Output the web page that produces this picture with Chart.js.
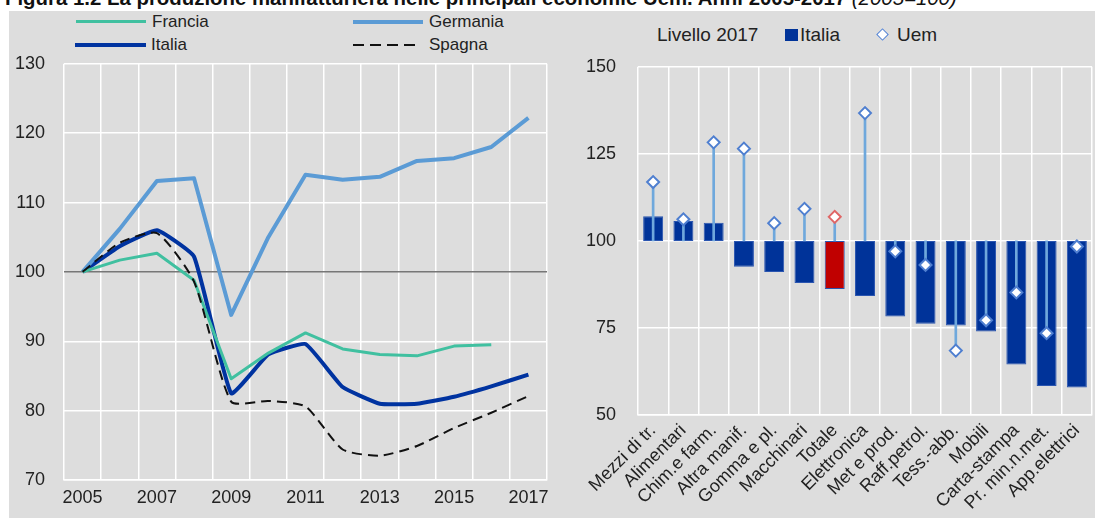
<!DOCTYPE html>
<html lang="it">
<head>
<meta charset="utf-8">
<title>Produzione manifatturiera Uem</title>
<script src="https://cdn.jsdelivr.net/npm/chart.js@4.4.1/dist/chart.umd.min.js"></script>
<style>
  html, body { margin: 0; padding: 0; background: #fff; }
  body { width: 1095px; height: 520px; position: relative; overflow: hidden;
         font-family: "Liberation Sans", Arial, sans-serif; color: #222; }
  #titolo { position: absolute; left: 5px; top: -14px; font-size: 20.4px; line-height: 24px;
            font-weight: bold; white-space: nowrap; color: #111; }
  #titolo i { font-weight: normal; }
  #sfondo { position: absolute; left: 9px; top: 11px; width: 1086px; height: 507px; background: #dddddd; }
  canvas { position: absolute; }
  .leg { position: absolute; font-size: 17px; line-height: 20px; white-space: nowrap; color: #222; }
  .seg { position: absolute; height: 0; }
</style>
</head>
<body>
<div id="titolo">Figura 1.2 La produzione manifatturiera nelle principali economie Uem. Anni 2005-2017 <i>(2005=100)</i></div>
<div id="sfondo"></div>

<!-- legenda sinistra -->
<div class="seg" style="left:76px;top:20px;width:70px;border-top:3px solid #40c0a0"></div>
<div class="leg" style="left:152px;top:12px">Francia</div>
<div class="seg" style="left:353px;top:20px;width:70px;border-top:4px solid #5b9bd5"></div>
<div class="leg" style="left:429px;top:12px">Germania</div>
<div class="seg" style="left:75px;top:43px;width:71px;border-top:4px solid #0033a0"></div>
<div class="leg" style="left:151px;top:35px">Italia</div>
<div class="seg" style="left:353px;top:44px;width:62px;height:2px;background:repeating-linear-gradient(to right,#111 0 11px,transparent 11px 17px)"></div>
<div class="leg" style="left:429px;top:35px">Spagna</div>

<!-- legenda destra -->
<div class="leg" style="left:657px;top:24px;font-size:19px;line-height:22px">Livello 2017</div>
<div class="seg" style="left:785px;top:29px;width:13px;height:12px;background:#003399"></div>
<div class="leg" style="left:800px;top:24px;font-size:19px;line-height:22px">Italia</div>
<div class="seg" style="left:878px;top:30px;width:7px;height:7px;background:#fff;border:1.5px solid #4f7fd0;transform:rotate(45deg)"></div>
<div class="leg" style="left:897px;top:24px;font-size:19px;line-height:22px">Uem</div>

<canvas id="graficoLinee" style="left:0;top:34px"></canvas>
<canvas id="graficoBarre" style="left:560px;top:34px"></canvas>

<script>
// ---- dati pannello sinistro (2005=100) ----
const anni = ['2005', '2006', '2007', '2008', '2009', '2010', '2011', '2012', '2013', '2014', '2015', '2016', '2017'];
const francia  = [100, 101.7, 102.7, 98.8, 84.6, 88.3, 91.2, 88.9, 88.1, 87.9, 89.3, 89.5, null];
const germania = [100, 106.2, 113.1, 113.5, 93.8, 105.0, 114.0, 113.3, 113.7, 116.0, 116.4, 118.0, 122.2];
const italia   = [100, 103.7, 106.0, 102.2, 82.5, 88.1, 89.6, 83.4, 81.0, 81.0, 82.0, 83.5, 85.2];
const spagna   = [100, 104.2, 105.6, 98.6, 81.3, 81.4, 80.6, 74.4, 73.5, 74.9, 77.5, 79.7, 82.1];

// ---- dati pannello destro (livello 2017) ----
const settori = ['Mezzi di tr.', 'Alimentari', 'Chim.e farm.', 'Altra manif.', 'Gomma e pl.', 'Macchinari', 'Totale',
  'Elettronica', 'Met e prod.', 'Raff.petrol.', 'Tess.-abb.', 'Mobili', 'Carta-stampa', 'Pr. min.n.met.', 'App.elettrici'];
const livItalia = [107.1, 105.7, 105.2, 92.6, 91.1, 87.9, 86.2, 84.2, 78.3, 76.2, 75.7, 74.0, 64.5, 58.3, 57.9];
const livUem    = [116.9, 106.2, 128.3, 126.5, 105.1, 109.2, 106.9, 136.7, 97.0, 93.1, 68.5, 77.2, 85.2, 73.5, 98.4];
const base = 100;

const font = { family: '"Liberation Sans", Arial, sans-serif', size: 18 };
const GRIGLIA = '#ffffff';

function fissa(dim, val) {
  return (scale) => { scale[dim] = val; };
}

// ====================================================
//  LINEE
// ====================================================
const cvL = document.getElementById('graficoLinee');
cvL.width = 560; cvL.height = 486;

new Chart(cvL, {
  type: 'line',
  data: {
    labels: anni,
    datasets: [
      { label: 'Spagna', data: spagna, borderColor: '#111', borderWidth: 2, borderDash: [10, 6], tension: 0.2 },
      { label: 'Francia', data: francia, borderColor: '#40c0a0', borderWidth: 3, tension: 0 },
      { label: 'Germania', data: germania, borderColor: '#5b9bd5', borderWidth: 4, tension: 0 },
      { label: 'Italia', data: italia, borderColor: '#0033a0', borderWidth: 4, tension: 0.12 },
    ],
  },
  options: {
    responsive: false,
    animation: false,
    events: [],
    elements: { point: { radius: 0 }, line: { borderCapStyle: 'butt', borderJoinStyle: 'round' } },
    layout: { padding: { top: 12, right: 13, left: 0, bottom: 0 } },
    plugins: { legend: { display: false }, tooltip: { enabled: false } },
    scales: {
      x: {
        offset: true,
        grid: { color: GRIGLIA, lineWidth: 1.5, offset: true, drawTicks: false },
        border: { color: GRIGLIA, width: 1.5 },
        ticks: {
          color: '#222', font, padding: 7, autoSkip: false, maxRotation: 0,
          callback(v, i) { return i % 2 === 0 ? anni[i] : ''; },
        },
        afterFit: fissa('height', 40),
      },
      y: {
        min: 70, max: 130,
        grid: {
          drawTicks: false, lineWidth: 1.5,
          color: (ctx) => (ctx.tick && ctx.tick.value === 100 ? '#777777' : GRIGLIA),
        },
        border: { display: false },
        ticks: { stepSize: 10, color: '#222', font, padding: 19 },
        afterFit: fissa('width', 64),
      },
    },
  },
});

// ====================================================
//  BARRE + UEM
// ====================================================
const cvB = document.getElementById('graficoBarre');
cvB.width = 540; cvB.height = 486;

const barreItalia = livItalia.map((v) => [base, v]);
const aste = livUem.map((v) => [base, v]);

new Chart(cvB, {
  type: 'bar',
  data: {
    labels: settori,
    datasets: [
      {
        label: 'Uem', type: 'line', data: livUem, showLine: false, order: 1,
        pointStyle: 'rectRot', pointRadius: 6, pointBorderWidth: 2,
        pointBackgroundColor: '#ffffff',
        pointBorderColor: settori.map((s) => (s === 'Totale' ? '#e06666' : '#4f7fd0')),
      },
      {
        label: 'asta', data: aste, order: 2, grouped: false, barThickness: 2,
        backgroundColor: '#6fa8dc', borderWidth: 0,
      },
      {
        label: 'Italia', data: barreItalia, order: 3, grouped: false,
        barPercentage: 0.66, categoryPercentage: 1,
        backgroundColor: settori.map((s) => (s === 'Totale' ? '#c00000' : '#003399')),
        borderColor: '#2a55b0', borderWidth: 1, borderSkipped: false,
      },
    ],
  },
  options: {
    responsive: false,
    animation: false,
    events: [],
    layout: { padding: { top: 14, right: 0, left: 0, bottom: 0 } },
    plugins: { legend: { display: false }, tooltip: { enabled: false } },
    scales: {
      x: {
        offset: true,
        grid: { color: GRIGLIA, lineWidth: 1.5, offset: true, drawTicks: false },
        border: { color: GRIGLIA, width: 1.5 },
        ticks: { color: '#222', font, padding: 5, autoSkip: false,
                 minRotation: 45, maxRotation: 45 },
        afterFit: fissa('height', 105),
      },
      y: {
        min: 50, max: 150,
        grid: { drawTicks: false, lineWidth: 1.5, color: GRIGLIA },
        border: { display: false },
        ticks: { stepSize: 25, color: '#222', font, padding: 22 },
        afterFit: fissa('width', 78),
      },
    },
  },
});
</script>
</body>
</html>
